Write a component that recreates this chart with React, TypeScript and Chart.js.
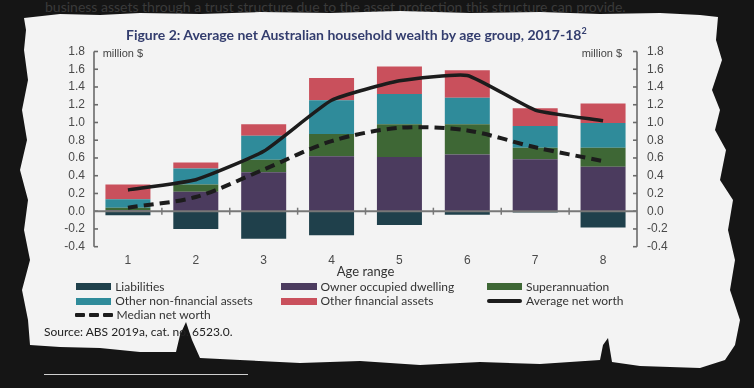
import React, { useEffect, useRef } from "react";
import { Chart, registerables } from "chart.js";

Chart.register(...registerables);

const categories = ["1", "2", "3", "4", "5", "6", "7", "8"];
const liabilities = [-0.045, -0.2, -0.31, -0.27, -0.155, -0.04, -0.015, -0.184];
const ownerOccupied = [0.01, 0.22, 0.44, 0.62, 0.61, 0.64, 0.585, 0.5];
const superannuation = [0.03, 0.08, 0.14, 0.25, 0.37, 0.34, 0.13, 0.214];
const otherNonFinancial = [0.095, 0.18, 0.27, 0.38, 0.34, 0.3, 0.245, 0.28];
const otherFinancial = [0.165, 0.07, 0.13, 0.25, 0.31, 0.31, 0.2, 0.22];
const averageNetWorth = [0.24, 0.355, 0.675, 1.25, 1.47, 1.53, 1.14, 1.02];
const medianNetWorth = [0.04, 0.16, 0.47, 0.79, 0.94, 0.91, 0.72, 0.565];
const yMin = -0.4;
const yMax = 1.8;
const yStep = 0.2;

const COLORS = {
  liabilities: "#1f404b",
  owner: "#4b3b5e",
  super: "#3e6735",
  nonFin: "#2f8b9a",
  fin: "#c9505c",
  line: "#1c1c1c",
};

const TICK_FONT = { family: '"Liberation Sans", Arial, sans-serif', size: 12 };
const TEXT_FONT = 'Lato, "Open Sans", sans-serif';

const fmt = (v: number) => (Math.abs(v) < 1e-9 ? "0.0" : Number(v).toFixed(1));

const axesPlugin = {
  id: "customAxes",
  afterDatasetsDraw(chart: any) {
    const { ctx, chartArea } = chart;
    const { left, right, top, bottom } = chartArea;
    const x = chart.scales.x;
    const y = chart.scales.y;
    const line = (x1: number, y1: number, x2: number, y2: number) => {
      ctx.beginPath();
      ctx.moveTo(x1, y1);
      ctx.lineTo(x2, y2);
      ctx.stroke();
    };
    ctx.save();
    ctx.strokeStyle = "#6a6a6a";
    ctx.lineWidth = 1.6;
    line(left, top, left, bottom);
    line(right, top, right, bottom);
    y.ticks.forEach((t: any) => {
      const py = y.getPixelForValue(t.value);
      line(left, py, left + 4, py);
      line(right - 4, py, right, py);
    });
    const y0 = y.getPixelForValue(0);
    ctx.strokeStyle = "#777777";
    ctx.lineWidth = 2;
    line(left, y0, right, y0);
    ctx.lineWidth = 1.5;
    for (let i = 1; i < categories.length; i++) {
      const px = (x.getPixelForValue(i - 1) + x.getPixelForValue(i)) / 2;
      line(px, y0 - 3.5, px, y0 + 3.5);
    }
    ctx.restore();
  },
};

function ChartCanvas() {
  const ref = useRef<HTMLCanvasElement | null>(null);
  useEffect(() => {
    if (!ref.current) return;
    const barCommon = {
      type: "bar" as const,
      stack: "bars",
      order: 2,
      barPercentage: 0.663,
      categoryPercentage: 1,
      borderWidth: 0,
    };
    const chart = new Chart(ref.current, {
      type: "bar",
      data: {
        labels: categories,
        datasets: [
          { ...barCommon, label: "Liabilities", data: liabilities, backgroundColor: COLORS.liabilities },
          { ...barCommon, label: "Owner occupied dwelling", data: ownerOccupied, backgroundColor: COLORS.owner },
          { ...barCommon, label: "Superannuation", data: superannuation, backgroundColor: COLORS.super },
          { ...barCommon, label: "Other non-financial assets", data: otherNonFinancial, backgroundColor: COLORS.nonFin },
          { ...barCommon, label: "Other financial assets", data: otherFinancial, backgroundColor: COLORS.fin },
          {
            type: "line" as const,
            label: "Average net worth",
            data: averageNetWorth,
            stack: "avg",
            order: 0,
            borderColor: COLORS.line,
            borderWidth: 3.5,
            tension: 0.15,
            pointRadius: 0,
            fill: false,
          },
          {
            type: "line" as const,
            label: "Median net worth",
            data: medianNetWorth,
            stack: "med",
            order: 1,
            borderColor: COLORS.line,
            borderWidth: 4,
            borderDash: [10, 6],
            tension: 0.3,
            pointRadius: 0,
            fill: false,
          },
        ] as any,
      },
      options: {
        animation: false,
        responsive: false,
        devicePixelRatio: 1,
        layout: { padding: { left: 0, right: 0, top: 51.5, bottom: 0 } },
        plugins: { legend: { display: false }, tooltip: { enabled: false }, title: { display: false } },
        scales: {
          x: {
            stacked: true,
            grid: { display: false, drawTicks: false },
            border: { display: false },
            ticks: { color: "#4a4a4a", font: TICK_FONT, padding: 7 },
            afterFit: (s: any) => {
              s.height = 43.3;
            },
          },
          y: {
            stacked: true,
            position: "left",
            min: yMin,
            max: yMax,
            grid: { display: false, drawTicks: false },
            border: { display: false },
            ticks: { stepSize: yStep, padding: 9, color: "#4a4a4a", font: TICK_FONT, callback: (v: any) => fmt(Number(v)) },
            afterFit: (s: any) => {
              s.width = 94;
            },
          },
          y2: {
            position: "right",
            min: yMin,
            max: yMax,
            grid: { display: false, drawTicks: false },
            border: { display: false },
            ticks: { stepSize: yStep, padding: 10, color: "#4a4a4a", font: TICK_FONT, callback: (v: any) => fmt(Number(v)) },
            afterFit: (s: any) => {
              s.width = 117;
            },
          },
        },
      } as any,
      plugins: [axesPlugin],
    });
    return () => chart.destroy();
  }, []);
  return <canvas ref={ref} width={754} height={290} style={{ position: "absolute", left: 0, top: 0, width: 754, height: 290 }} />;
}

const paperPoly = [
  [24, 18], [60, 14], [100, 15], [140, 13], [200, 14], [260, 12], [330, 13], [400, 11], [470, 13], [540, 12], [600, 14], [660, 13], [700, 15], [718, 17],
  [716, 40], [722, 60], [712, 90], [720, 110], [715, 130], [726, 150], [720, 180], [733, 200], [728, 230], [735, 260], [730, 290], [740, 320], [735, 345], [725, 360],
  [700, 368], [640, 366], [612, 362], [608, 338], [603, 345], [600, 360], [540, 364], [480, 362], [420, 365], [360, 361], [300, 363], [240, 360], [200, 358], [192, 340], [186, 322], [180, 335], [176, 352], [140, 352], [100, 348], [60, 347], [30, 345],
  [28, 320], [22, 290], [30, 260], [24, 230], [28, 200], [20, 170], [27, 140], [22, 110], [28, 80], [24, 50], [26, 30],
];

type LegendItem = { label: string; x: number; cy: number; kind: "box" | "line" | "dash"; color: string };
const legendItems: LegendItem[] = [
  { label: "Liabilities", x: 75.7, cy: 286.5, kind: "box", color: COLORS.liabilities },
  { label: "Owner occupied dwelling", x: 281, cy: 286.5, kind: "box", color: COLORS.owner },
  { label: "Superannuation", x: 486.5, cy: 286.5, kind: "box", color: COLORS.super },
  { label: "Other non-financial assets", x: 75.7, cy: 301.3, kind: "box", color: COLORS.nonFin },
  { label: "Other financial assets", x: 281, cy: 301.3, kind: "box", color: COLORS.fin },
  { label: "Average net worth", x: 486.5, cy: 301.3, kind: "line", color: COLORS.line },
  { label: "Median net worth", x: 74.5, cy: 314.7, kind: "dash", color: COLORS.line },
];

function Legend() {
  return (
    <>
      {legendItems.map((it) => {
        const sw = it.kind === "dash" ? 38 : 35.5;
        let swatch: React.ReactNode;
        if (it.kind === "box") {
          swatch = <div style={{ position: "absolute", left: it.x, top: it.cy - 3.5, width: sw, height: 7, background: it.color }} />;
        } else if (it.kind === "line") {
          swatch = <div style={{ position: "absolute", left: it.x, top: it.cy - 2, width: sw, height: 4, background: it.color, borderRadius: 2 }} />;
        } else {
          swatch = (
            <>
              {[0, 1, 2].map((k) => (
                <div key={k} style={{ position: "absolute", left: it.x + k * 14, top: it.cy - 2, width: 10, height: 4, background: it.color, borderRadius: 1 }} />
              ))}
            </>
          );
        }
        return (
          <React.Fragment key={it.label}>
            {swatch}
            <div
              style={{
                position: "absolute",
                left: it.x + sw + 4,
                top: it.cy - 8,
                height: 16,
                lineHeight: "16px",
                fontFamily: TEXT_FONT,
                fontSize: 12,
                color: "#333",
                whiteSpace: "nowrap",
              }}
            >
              {it.label}
            </div>
          </React.Fragment>
        );
      })}
    </>
  );
}

export default function App() {
  const clip = "polygon(" + paperPoly.map(([a, b]) => `${a}px ${b}px`).join(", ") + ")";
  const abs = (o: React.CSSProperties): React.CSSProperties => ({ position: "absolute", whiteSpace: "nowrap", ...o });
  return (
    <div style={{ position: "fixed", left: 0, top: 0, width: 754, height: 388, background: "#151515", overflow: "hidden" }}>
      <div style={abs({ left: 45, top: -2, fontFamily: TEXT_FONT, fontSize: 14, color: "#3a3a3a", lineHeight: "18px" })}>
        business assets through a trust structure due to the asset protection this structure can provide.
      </div>
      <div style={{ position: "absolute", left: 0, top: 0, width: 754, height: 388, background: "#f3f3f3", clipPath: clip }} />
      <ChartCanvas />
      <div style={abs({ left: 126, top: 26, lineHeight: "18px", fontFamily: TEXT_FONT, fontWeight: 700, fontSize: 14, color: "#333d6e" })}>
        Figure 2: Average net Australian household wealth by age group, 2017-18<sup style={{ fontSize: 9, verticalAlign: "6px", lineHeight: 0 }}>2</sup>
      </div>
      <div style={abs({ left: 102.7, top: 46, lineHeight: "14px", fontFamily: TICK_FONT.family, fontSize: 11, color: "#444" })}>million $</div>
      <div style={abs({ left: 581.7, top: 46, lineHeight: "14px", fontFamily: TICK_FONT.family, fontSize: 11, color: "#444" })}>million $</div>
      <div style={abs({ left: 265.5, width: 200, textAlign: "center", top: 263, lineHeight: "16px", fontFamily: TEXT_FONT, fontSize: 13, color: "#333" })}>Age range</div>
      <Legend />
      <div style={abs({ left: 44, top: 323.5, lineHeight: "16px", fontFamily: TEXT_FONT, fontSize: 12, color: "#222" })}>Source: ABS 2019a, cat. no. 6523.0.</div>
      <div style={{ position: "absolute", left: 44, top: 374, width: 204, height: 1, background: "#cfcfcf" }} />
    </div>
  );
}
